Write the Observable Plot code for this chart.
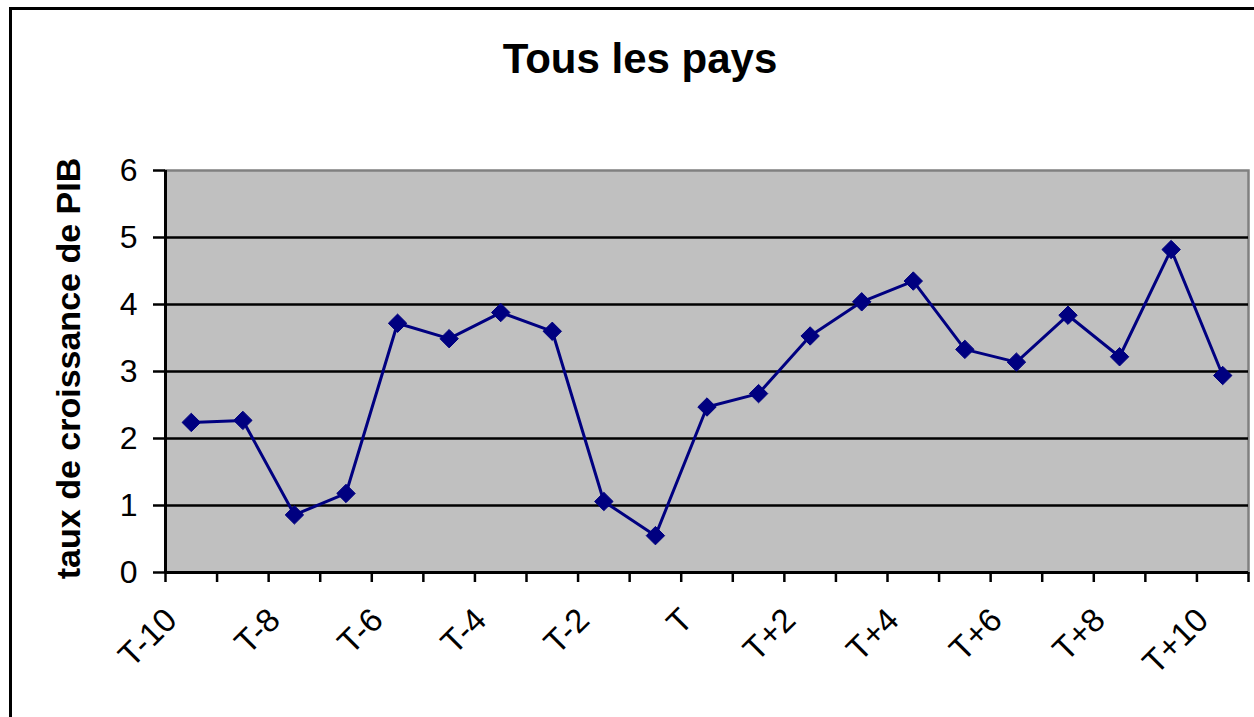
<!DOCTYPE html>
<html>
<head>
<meta charset="utf-8">
<script src="https://cdn.jsdelivr.net/npm/d3@7"></script>
<script src="https://cdn.jsdelivr.net/npm/@observablehq/plot@0.6"></script>
<style>
  html, body { margin: 0; padding: 0; background: #fff; }
  body { width: 1254px; height: 717px; overflow: hidden; position: relative; font-family: "Liberation Sans", Arial, sans-serif; }
  #border { position: absolute; left: 9px; top: 7px; width: 1400px; height: 900px; border-left: 3px solid #000; border-top: 3px solid #000; }
  #title { position: absolute; left: 0; top: 38px; width: 1280px; text-align: center; font-weight: bold; font-size: 42px; line-height: 42px; color: #000; }
  #chart { position: absolute; left: 0; top: 110px; }
</style>
</head>
<body>
<div id="border"></div>
<div id="title">Tous les pays</div>
<div id="chart"></div>
<script>
const categories = ["T-10","T-9","T-8","T-7","T-6","T-5","T-4","T-3","T-2","T-1","T","T+1","T+2","T+3","T+4","T+5","T+6","T+7","T+8","T+9","T+10"];
const values = [2.24,2.27,0.86,1.18,3.72,3.49,3.88,3.60,1.06,0.55,2.47,2.67,3.53,4.04,4.35,3.33,3.14,3.84,3.22,4.82,2.94];
const yTicks = [0,1,2,3,4,5,6];
const gridValues = [1,2,3,4,5];
const yLabel = "taux de croissance de PIB";

const data = categories.map((c, i) => ({cat: c, i, v: values[i]}));
const boundaries = d3.range(categories.length + 1).map(i => i - 0.5);
const labelIdx = d3.range(0, categories.length, 2);
const navy = "#000080";

const chart = Plot.plot({
  width: 1254,
  height: 607,
  marginLeft: 165,
  marginRight: 6,
  marginTop: 60,
  marginBottom: 145,
  style: {fontFamily: "'Liberation Sans', Arial, sans-serif", fontSize: "32px", background: "transparent", color: "#000", overflow: "visible"},
  x: {type: "linear", domain: [-0.5, categories.length - 0.5], axis: null},
  y: {domain: [0, 6], axis: null},
  marks: [
    Plot.frame({fill: "#c0c0c0", stroke: "#808080", strokeWidth: 2.5}),
    Plot.ruleY(gridValues, {stroke: "#000", strokeWidth: 2.5}),
    Plot.axisY({ticks: yTicks, tickSize: 12, tickPadding: 16, fontSize: 32, strokeWidth: 2.5, stroke: "#000", label: null, tickFormat: d => String(d)}),
    Plot.axisX({ticks: boundaries, tickSize: 10, strokeWidth: 2.5, stroke: "#000", tickFormat: () => "", label: null}),
    Plot.axisX({ticks: labelIdx, tickSize: 0, tickPadding: 42, tickRotate: -45, dx: -20, fontSize: 33, tickFormat: i => categories[i], label: null}),
    Plot.ruleY([0], {stroke: "#000", strokeWidth: 3}),
    Plot.ruleX([-0.5], {stroke: "#000", strokeWidth: 3}),
    Plot.line(data, {x: "i", y: "v", stroke: navy, strokeWidth: 3}),
    Plot.dot(data, {x: "i", y: "v", symbol: "diamond2", r: 8.3, fill: navy, stroke: navy, strokeWidth: 1}),
    Plot.text([yLabel], {x: () => -0.5, y: () => 3, rotate: -90, dx: -96, dy: -3, fontSize: 34, fontWeight: "bold", fill: "#000"})
  ]
});
document.getElementById("chart").appendChild(chart);
</script>
</body>
</html>
